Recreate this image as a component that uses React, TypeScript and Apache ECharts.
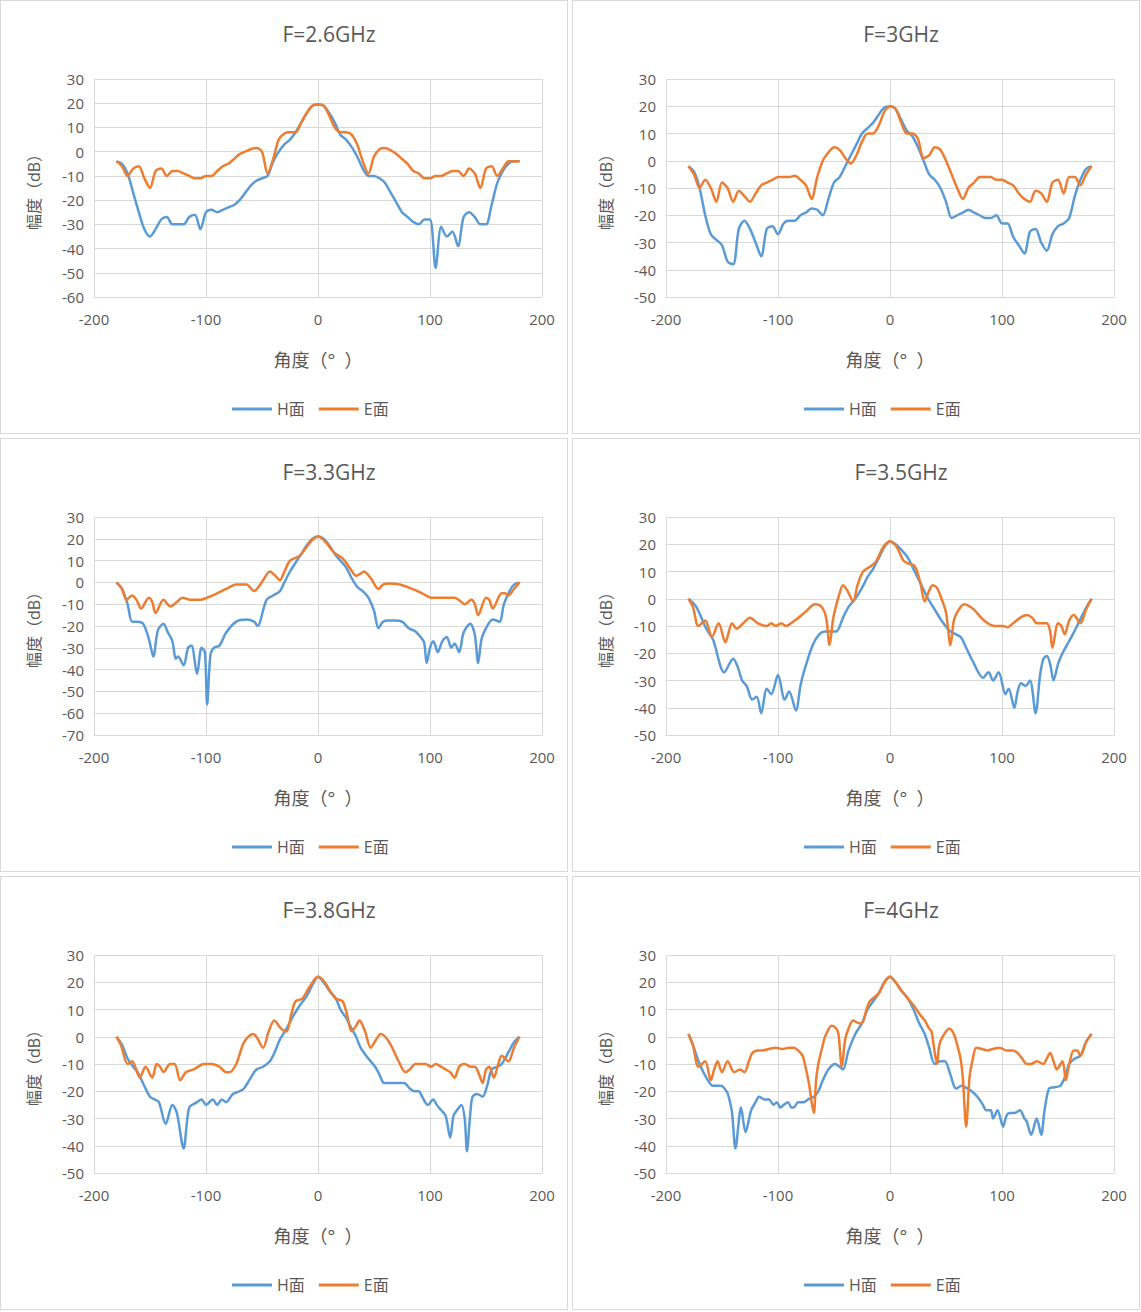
import * as echarts from "echarts";
import { useEffect, useRef } from "react";

// angle grid for the first two panels (5 deg step)
const grid5 = Array.from({ length: 73 }, (_, i) => -180 + i * 5);

const h26v = [-4, -5, -9, -17, -25, -32, -35, -32, -28, -27, -30, -30, -30, -27, -26, -32, -25, -24, -25, -24, -23, -22, -20, -17, -14, -12, -11, -10, -4, 0, 3, 5, 8, 12, 16, 19, 19.5, 19, 16, 12, 7, 5, 2, -2, -7, -10, -10, -11, -13, -17, -21, -25, -27, -29, -30, -28, -28, -48, -31, -35, -33, -39, -27, -25, -27, -30, -30, -22, -13, -8, -5, -4, -4];
const e26v = [-4, -6, -10, -7, -6, -11, -15, -8, -7, -10, -8, -8, -9, -10, -11, -11, -10, -10, -8, -6, -5, -3, -1, 0, 1, 1.5, 0, -9, -3, 5, 7.5, 8, 8, 12, 16, 19, 19.5, 19, 15, 10, 8, 8, 7, 3, -4, -9, -2, 1, 1.5, 0.5, -1, -3, -5, -8, -9, -11, -11, -10, -10, -9, -8, -8, -10, -7, -9, -15, -7, -6, -10, -7, -4, -4, -4];
const h30v = [-2, -4, -10, -20, -27, -29, -31, -37, -38, -25, -22, -25, -30, -35, -25, -24, -27, -23, -22, -22, -20, -19, -17.5, -18, -20, -14, -8, -6, -2, 2, 6, 10, 12, 14, 17, 19.5, 20, 19, 15, 11, 9, 5, 0, -5, -7, -10, -15, -21, -20, -19, -18, -19, -20, -21, -21, -20, -23, -23, -28, -31, -34, -26, -25, -30, -33, -27, -24, -23, -21, -13, -7, -3, -2];
const e30v = [-2, -5, -10, -7, -10, -15, -8, -10, -15, -11, -13, -15, -12, -9, -8, -7, -6, -6, -6, -5.5, -7, -9, -14, -6, 0, 3, 5, 4, 1, -1, 2, 7, 10, 10, 13, 18, 20, 19, 14, 10, 10, 8, 1, 2, 5, 4, 0, -5, -10, -14, -10, -8, -6, -6, -6, -7, -7, -8, -9, -12, -14, -15, -11, -12, -15, -8, -7, -12, -6, -6, -9, -5, -2];

const h33 = [[-180, 0], [-175, -3], [-170, -10], [-166, -18], [-161, -18], [-156, -19], [-151, -26], [-147, -34], [-143, -22], [-138, -19], [-134, -23], [-130, -27], [-127, -35], [-125, -34], [-120, -38], [-116, -30], [-113, -29], [-108, -42], [-104, -30], [-101, -32], [-99, -56], [-96, -33], [-93, -30], [-88, -29], [-82, -23], [-73, -18], [-64, -17], [-57, -18], [-54, -20], [-46, -8], [-40, -6], [-34, -4], [-30, 0], [-25, 5], [-20, 9], [-15, 13], [-10, 17], [-5, 20], [0, 21], [5, 20], [10, 17], [15, 13], [20, 10], [25, 7], [30, 2], [35, -2], [40, -4], [45, -7], [50, -13], [54, -21], [58, -18], [63, -17.5], [69, -17.5], [75, -18], [81, -21], [87, -22.5], [93, -26], [95, -28], [97, -37], [100, -30], [103, -27], [107, -32], [111, -27], [115, -25], [119, -30], [122, -28], [126, -32], [130, -23], [136, -19], [140, -24], [143, -37], [146, -26], [150, -21], [156, -17], [162, -18], [166, -10], [171, -4], [175, -1], [180, 0]];
const e33 = [[-180, 0], [-175, -3], [-171, -8], [-166, -6], [-162, -8], [-158, -12], [-151, -7], [-148, -9], [-145, -14], [-138, -8], [-132, -11], [-126, -9], [-121, -7], [-114, -8], [-105, -8], [-99, -7], [-90, -5], [-82, -3], [-73, -1], [-64, -1], [-57, -4], [-53, -2], [-49, 1], [-43, 5], [-38, 3], [-34, 1], [-30, 5], [-25, 10], [-17, 12], [-12, 15], [-6, 19], [0, 21], [6, 19], [12, 15], [16, 13], [22, 11], [28, 7], [34, 3], [38, 4], [41, 5], [47, 2], [54, -3], [58, -1], [63, -0.5], [73, -1], [84, -3], [93, -5], [101, -7], [108, -7], [117, -7], [122, -7], [128, -9], [131, -10], [137, -8], [140, -10], [143, -15], [150, -7], [153, -8], [156, -12], [164, -5], [167, -5], [170, -6], [175, -3], [180, 0]];

const h35 = [[-180, 0], [-173, -3], [-164, -11], [-158, -15], [-148, -27], [-140, -22], [-136, -25], [-132, -30], [-128, -32], [-123, -37], [-119, -36], [-115, -42], [-110, -33], [-106, -35], [-100, -28], [-94, -37], [-90, -34], [-84, -41], [-80, -32], [-77, -27], [-69, -17], [-63, -13], [-58, -12], [-53, -12], [-48, -12], [-42, -7], [-37, -3], [-31, 0], [-25, 4], [-20, 8], [-15, 11], [-10, 15], [-5, 19], [0, 21], [5, 20], [10, 18], [16, 15], [22, 10], [28, 5], [34, 0], [40, -4], [46, -8], [54, -12], [63, -14], [68, -18], [74, -23], [83, -29], [88, -27], [92, -30], [97, -27], [103, -35], [106, -33], [111, -40], [114, -34], [117, -31], [121, -32], [125, -30], [130, -42], [134, -28], [137, -22], [140, -21], [143, -24], [146, -30], [150, -24], [154, -20], [158, -17], [162, -14], [167, -10], [173, -5], [177, -2], [180, 0]];
const e35 = [[-180, 0], [-176, -3], [-171, -10], [-165, -8], [-159, -14], [-153, -9], [-147, -16], [-141, -9], [-137, -11], [-131, -9], [-125, -7], [-118, -9], [-110, -10], [-106, -9], [-102, -10], [-97, -9], [-93, -10], [-85, -8], [-76, -5], [-67, -2], [-61, -3], [-57, -7], [-54, -17], [-51, -8], [-49, -4], [-45, 2], [-42, 5], [-38, 3], [-33, -1], [-29, 5], [-24, 10], [-17, 12], [-12, 14], [-6, 19], [0, 21], [6, 19], [12, 14], [16, 13], [22, 12], [27, 6], [31, -1], [34, 2], [38, 5], [42, 4], [46, 0], [50, -5], [54, -17], [57, -8], [60, -5], [66, -2], [70, -2.5], [75, -4], [84, -8], [93, -10], [101, -10], [105, -10.5], [110, -9], [116, -7], [122, -6], [127, -7], [131, -9], [140, -9], [143, -12], [145, -18], [150, -9], [153, -10], [156, -13], [160, -8], [164, -6], [170, -9], [175, -4], [180, 0]];

const h38 = [[-180, 0], [-175, -3], [-170, -8], [-165, -11], [-161, -13], [-154, -19], [-150, -22], [-146, -23], [-142, -24], [-136, -32], [-130, -25], [-126, -28], [-120, -41], [-115, -26], [-108, -24], [-104, -23], [-100, -25], [-94, -23], [-90, -25], [-86, -23], [-82, -24], [-76, -21], [-70, -20], [-66, -19], [-60, -15], [-55, -12], [-49, -11], [-43, -9], [-38, -5], [-34, -1], [-28, 3], [-23, 7], [-17, 11], [-10, 15], [-5, 19], [0, 22], [5, 20], [10, 17], [16, 14], [20, 10], [25, 7], [30, 3], [34, 0], [38, -4], [43, -7], [51, -11], [55, -14], [59, -17], [66, -17], [72, -17], [77, -17], [82, -19], [86, -20], [90, -20], [93, -22], [98, -25], [103, -23], [106, -25], [110, -27], [114, -29], [118, -37], [121, -29], [124, -27], [128, -25], [131, -30], [133, -42], [136, -28], [138, -22], [142, -21], [147, -22], [151, -18], [155, -12], [160, -11], [164, -10], [171, -5], [175, -2], [180, 0]];
const e38 = [[-180, 0], [-176, -3], [-170, -10], [-166, -9], [-159, -15], [-154, -11], [-148, -15], [-144, -10], [-141, -11], [-138, -13], [-132, -10], [-128, -10], [-123, -16], [-118, -13], [-111, -12], [-102, -10], [-95, -10], [-88, -11], [-82, -13], [-79, -13], [-73, -10], [-66, -2], [-58, 1], [-55, 0], [-49, -4], [-44, 2], [-39, 6], [-33, 3], [-28, 2], [-24, 8], [-20, 13], [-14, 14], [-8, 18], [0, 22], [6, 20], [12, 16], [16, 14], [22, 13], [26, 8], [30, 2], [34, 4], [37, 6], [42, 2], [47, -4], [52, -1], [56, 1], [60, 0], [65, -3], [72, -9], [78, -13], [82, -12], [87, -10], [92, -10], [96, -10], [101, -11], [105, -10], [110, -11], [114, -12], [118, -13], [122, -15], [126, -11], [131, -10], [136, -11], [140, -11], [144, -14], [147, -17], [150, -12], [153, -11], [157, -15], [161, -10], [164, -7], [170, -9], [175, -4], [180, 0]];

const h40 = [[-180, 1], [-176, -3], [-170, -10], [-164, -15], [-158, -18], [-151, -18], [-146, -20], [-144, -22], [-141, -28], [-138, -41], [-133, -26], [-129, -35], [-124, -27], [-120, -24], [-117, -22], [-112, -23], [-108, -23], [-104, -25], [-101, -24], [-98, -26], [-95, -25], [-91, -24], [-88, -26], [-86, -26], [-82, -24], [-77, -24], [-73, -23], [-68, -22], [-64, -20], [-60, -16], [-55, -12], [-49, -10], [-45, -11], [-42, -12], [-37, -5], [-31, 1], [-25, 5], [-20, 10], [-15, 13], [-10, 16], [-5, 20], [0, 22], [5, 20], [10, 17], [16, 14], [21, 10], [26, 5], [31, 1], [35, -4], [40, -10], [45, -9], [49, -9], [54, -14], [59, -19], [64, -18], [69, -19], [73, -20], [78, -22], [83, -25], [86, -27], [90, -27], [92, -30], [96, -27], [101, -33], [104, -29], [107, -28], [111, -28], [116, -27], [120, -30], [122, -31], [126, -36], [131, -30], [135, -36], [138, -27], [142, -19], [147, -18.5], [152, -18], [156, -15], [160, -10], [165, -8], [170, -7], [175, -2], [180, 1]];
const e40 = [[-180, 1], [-176, -3], [-171, -11], [-165, -9], [-160, -16], [-157, -12], [-154, -9], [-150, -13], [-145, -9], [-139, -13], [-134, -12], [-130, -13], [-126, -9], [-123, -6], [-118, -5], [-114, -5], [-108, -4.5], [-102, -4], [-96, -4.5], [-90, -4], [-86, -4], [-82, -5], [-78, -7], [-76, -10], [-72, -18], [-70, -24], [-68, -28], [-66, -16], [-64, -10], [-60, -3], [-58, 0], [-52, 4], [-48, 3], [-46, 1], [-43, -11], [-40, -1], [-37, 3], [-33, 6], [-28, 5], [-25, 5], [-21, 10], [-18, 13], [-10, 16], [-5, 20], [0, 22], [5, 20], [10, 17], [16, 14], [22, 11], [27, 8], [31, 6], [35, 3], [37, 2], [40, -6], [42, -10], [44, -3], [47, 0], [53, 3], [57, 1], [60, -3], [63, -8], [65, -15], [68, -33], [71, -15], [74, -8], [77, -4], [82, -4.5], [87, -5], [92, -4.5], [98, -4], [104, -5], [110, -5], [114, -6], [118, -8], [122, -10], [126, -10], [131, -9], [137, -10], [140, -8], [143, -6], [146, -9], [149, -12], [154, -9], [157, -16], [160, -10], [164, -5], [167, -5], [170, -7], [175, -2], [180, 1]];

const zip = (vals: number[]) => grid5.map((a, i) => [a, vals[i]]);

const panels = [
  { title: "F=2.6GHz", yMin: -60, h: zip(h26v), e: zip(e26v) },
  { title: "F=3GHz", yMin: -50, h: zip(h30v), e: zip(e30v) },
  { title: "F=3.3GHz", yMin: -70, h: h33, e: e33 },
  { title: "F=3.5GHz", yMin: -50, h: h35, e: e35 },
  { title: "F=3.8GHz", yMin: -50, h: h38, e: e38 },
  { title: "F=4GHz", yMin: -50, h: h40, e: e40 },
];

const FONT = "'Open Sans', 'Noto Sans CJK SC', sans-serif";

function Panel({ title, yMin, h, e }: { title: string; yMin: number; h: number[][]; e: number[][] }) {
  const ref = useRef<HTMLDivElement | null>(null);
  useEffect(() => {
    const el = ref.current;
    if (!el) return;
    const chart = echarts.init(el, undefined, { renderer: "svg" });
    const lineSeries = (name: string, data: number[][], color: string) => ({
      name,
      type: "line" as const,
      data,
      smooth: 0.3,
      symbol: "none",
      lineStyle: { width: 2.5, color },
      itemStyle: { color },
    });
    chart.setOption({
      animation: false,
      title: {
        text: title,
        left: 323,
        textAlign: "center",
        top: 17,
        textStyle: { fontSize: 21, fontWeight: "normal", color: "#595959", fontFamily: FONT },
      },
      grid: { left: 93, right: 25, top: 78, bottom: 136 },
      xAxis: {
        type: "value",
        min: -200,
        max: 200,
        interval: 100,
        name: "角度（°  ）",
        nameLocation: "middle",
        nameGap: 54,
        nameTextStyle: { fontSize: 18, color: "#595959", fontFamily: FONT },
        axisLine: { onZero: false, lineStyle: { color: "#d9d9d9" } },
        axisTick: { show: false },
        axisLabel: { fontSize: 15, color: "#595959", fontFamily: FONT, margin: 14 },
        splitLine: { lineStyle: { color: "#d9d9d9" } },
      },
      yAxis: {
        type: "value",
        min: yMin,
        max: 30,
        interval: 10,
        name: "幅度（dB）",
        nameLocation: "middle",
        nameRotate: 90,
        nameGap: 52,
        nameTextStyle: { fontSize: 16, color: "#595959", fontFamily: FONT },
        axisLine: { show: true, lineStyle: { color: "#d9d9d9" } },
        axisTick: { show: false },
        axisLabel: { fontSize: 15, color: "#595959", fontFamily: FONT, margin: 10 },
        splitLine: { lineStyle: { color: "#d9d9d9" } },
      },
      legend: {
        data: ["H面", "E面"],
        top: 395,
        left: 226,
        itemWidth: 40,
        itemHeight: 3,
        itemGap: 14,
        icon: "rect",
        textStyle: { fontSize: 16, color: "#595959", fontFamily: FONT },
      },
      series: [lineSeries("H面", h, "#5b9bd5"), lineSeries("E面", e, "#ed7d31")],
    });
    return () => chart.dispose();
  }, [title, yMin, h, e]);
  return (
    <div style={{ width: 568, height: 434, border: "1px solid #d9d9d9", boxSizing: "border-box", background: "#fff" }}>
      <div ref={ref} style={{ width: 566, height: 432 }} />
    </div>
  );
}

export default function App() {
  useEffect(() => {
    document.body.style.margin = "0";
  }, []);
  return (
    <div style={{ display: "grid", gridTemplateColumns: "568px 568px", columnGap: 4, rowGap: 4, width: 1141, background: "#fff" }}>
      {panels.map((p) => (
        <Panel key={p.title} {...p} />
      ))}
    </div>
  );
}
